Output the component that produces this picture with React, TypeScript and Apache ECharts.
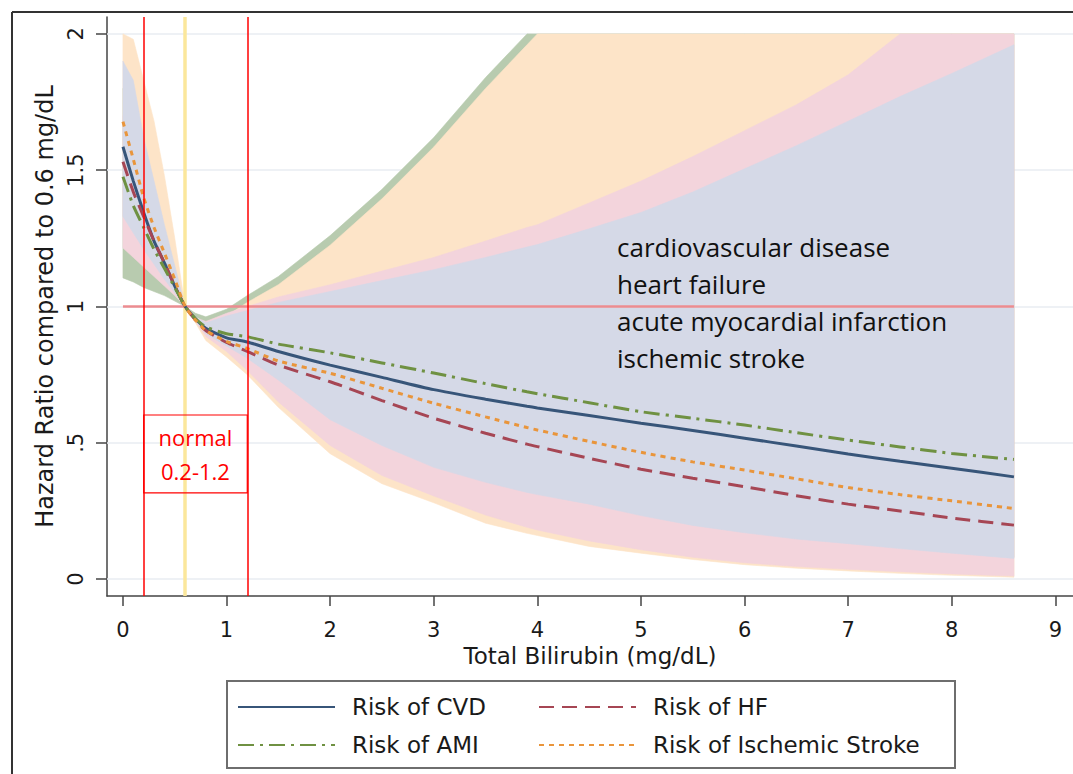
import React, { useEffect, useRef } from "react";
import * as echarts from "echarts";

// ---------- data ----------
const bilirubin = [0, 0.1, 0.2, 0.3, 0.4, 0.5, 0.6, 0.7, 0.8, 1.0, 1.2, 1.5, 2, 2.5, 3, 3.5, 3.9, 4, 4.5, 5, 5.5, 6, 6.5, 7, 7.5, 8, 8.6];

const riskCVD = [1.586, 1.46, 1.345, 1.24, 1.16, 1.075, 1.0, 0.955, 0.92, 0.885, 0.87, 0.835, 0.785, 0.74, 0.695, 0.66, 0.634, 0.628, 0.6, 0.572, 0.545, 0.517, 0.488, 0.459, 0.432, 0.407, 0.375];
const riskHF = [1.531, 1.42, 1.33, 1.24, 1.16, 1.075, 1.0, 0.95, 0.912, 0.868, 0.835, 0.785, 0.724, 0.655, 0.59, 0.535, 0.495, 0.486, 0.443, 0.403, 0.37, 0.339, 0.306, 0.275, 0.25, 0.224, 0.198];
const riskAMI = [1.476, 1.37, 1.29, 1.21, 1.14, 1.07, 1.0, 0.955, 0.925, 0.9, 0.889, 0.862, 0.83, 0.793, 0.756, 0.717, 0.687, 0.68, 0.647, 0.614, 0.59, 0.565, 0.537, 0.51, 0.485, 0.461, 0.439];
const riskIS = [1.678, 1.54, 1.4, 1.29, 1.196, 1.1, 1.0, 0.95, 0.912, 0.872, 0.846, 0.8, 0.755, 0.7, 0.645, 0.595, 0.556, 0.547, 0.505, 0.465, 0.43, 0.4, 0.368, 0.336, 0.31, 0.287, 0.259];

// confidence bands (clipped at 2 as drawn)
const cvdLo = [1.33, 1.27, 1.21, 1.155, 1.1, 1.05, 1.0, 0.95, 0.9, 0.855, 0.81, 0.73, 0.585, 0.49, 0.41, 0.355, 0.318, 0.31, 0.275, 0.233, 0.197, 0.17, 0.147, 0.13, 0.112, 0.095, 0.076];
const cvdHi = [1.9, 1.83, 1.62, 1.46, 1.3, 1.15, 1.0, 0.96, 0.94, 0.965, 0.985, 1.015, 1.055, 1.095, 1.135, 1.18, 1.218, 1.227, 1.285, 1.345, 1.42, 1.505, 1.59, 1.68, 1.77, 1.855, 1.96];
const hfLo = [1.215, 1.18, 1.145, 1.11, 1.075, 1.04, 1.0, 0.945, 0.89, 0.835, 0.765, 0.65, 0.49, 0.38, 0.305, 0.235, 0.19, 0.18, 0.14, 0.108, 0.08, 0.06, 0.046, 0.036, 0.027, 0.019, 0.011];
const hfHi = [1.7, 1.6, 1.45, 1.32, 1.2, 1.09, 1.0, 0.96, 0.945, 0.975, 1.0, 1.035, 1.08, 1.13, 1.18, 1.24, 1.29, 1.3, 1.38, 1.46, 1.55, 1.645, 1.74, 1.85, 2.0, 2.0, 2.0];
const amiLo = [1.105, 1.09, 1.07, 1.055, 1.04, 1.02, 1.0, 0.95, 0.9, 0.86, 0.82, 0.74, 0.6, 0.5, 0.42, 0.365, 0.33, 0.32, 0.285, 0.245, 0.21, 0.18, 0.155, 0.135, 0.118, 0.1, 0.08];
const amiHi = [1.8, 1.65, 1.5, 1.38, 1.25, 1.12, 1.0, 0.975, 0.962, 0.99, 1.04, 1.11, 1.26, 1.43, 1.62, 1.84, 2.0, 2.0, 2.0, 2.0, 2.0, 2.0, 2.0, 2.0, 2.0, 2.0, 2.0];
const isLo = [1.4, 1.32, 1.24, 1.17, 1.11, 1.05, 1.0, 0.94, 0.875, 0.815, 0.75, 0.63, 0.46, 0.35, 0.28, 0.205, 0.168, 0.16, 0.12, 0.095, 0.072, 0.053, 0.04, 0.03, 0.021, 0.014, 0.007];
const isHi = [2.0, 1.98, 1.83, 1.68, 1.48, 1.25, 1.0, 0.96, 0.94, 0.965, 1.015, 1.08, 1.225, 1.395, 1.585, 1.8, 1.96, 2.0, 2.0, 2.0, 2.0, 2.0, 2.0, 2.0, 2.0, 2.0, 2.0];

const xTicks = [0, 1, 2, 3, 4, 5, 6, 7, 8, 9];
const yTicks = [0, 0.5, 1, 1.5, 2];

const refLineX = [0, 8.6];
const refLineY = [1, 1];
const normalRange = [0.2, 1.2];
const referenceBilirubin = 0.6;
const normalBoxHR = [0.602, 0.316];

const legendCol1 = ["Risk of CVD", "Risk of AMI"];
const legendCol2 = ["Risk of HF", "Risk of Ischemic Stroke"];
const annotationLines = ["cardiovascular disease", "heart failure", "acute myocardial infarction", "ischemic stroke"];

// ---------- styling ----------
const STATA_FONT = "DejaVu Sans";
const NOTE_FONT = "Open Sans";
const TEXT = "#1a1a1a";
const AXIS = "#444";

const pairs = (ys: number[]) => bilirubin.map((x, i) => [x, ys[i]]);

// a confidence band drawn as one polygon through the axis scales
function band(id: string, lo: number[], hi: number[], color: string) {
  const rows = bilirubin.map((x, i) => [x, lo[i], hi[i]]);
  return {
    type: "custom",
    name: id,
    data: rows,
    encode: { x: 0, y: [1, 2] },
    clip: true,
    silent: true,
    z: 2,
    renderItem: (params: any, api: any) => {
      if (params.dataIndex !== 0) return null;
      const upper = rows.map((r) => api.coord([r[0], r[2]]));
      const lower = rows.map((r) => api.coord([r[0], r[1]])).reverse();
      return {
        type: "polygon",
        shape: { points: upper.concat(lower) },
        style: { fill: color, stroke: color, lineWidth: 0.6 },
        silent: true,
      };
    },
  };
}

function curve(name: string, ys: number[], color: string, type: any) {
  return {
    type: "line",
    name,
    data: pairs(ys),
    symbol: "none",
    smooth: 0.2,
    lineStyle: { color, width: 3, type },
    itemStyle: { color },
    silent: true,
    z: 4,
  };
}

const legendBase = {
  orient: "vertical",
  top: 694,
  itemWidth: 97,
  itemHeight: 14,
  itemGap: 12,
  padding: 0,
  selectedMode: false,
  itemStyle: { opacity: 0 },
  textStyle: {
    fontFamily: STATA_FONT,
    fontSize: 23,
    color: TEXT,
    lineHeight: 26,
    padding: [0, 0, 0, 12],
  },
};

const option: any = {
  animation: false,
  backgroundColor: "#ffffff",
  grid: { left: 107, right: 0, top: 17, bottom: 178, containLabel: false },
  xAxis: {
    type: "value",
    min: -0.154,
    max: 9.17,
    name: "Total Bilirubin (mg/dL)",
    nameLocation: "middle",
    nameGap: 45,
    nameTextStyle: { fontFamily: STATA_FONT, fontSize: 23, color: TEXT },
    axisLine: { show: true, onZero: false, lineStyle: { color: AXIS, width: 1.5 } },
    axisTick: { show: true, length: 10, customValues: xTicks, lineStyle: { color: AXIS, width: 1.5 } },
    axisLabel: { customValues: xTicks, margin: 23, fontFamily: STATA_FONT, fontSize: 21, color: TEXT },
    splitLine: { show: false },
  },
  yAxis: {
    type: "value",
    min: -0.062,
    max: 2.062,
    name: "Hazard Ratio compared to 0.6 mg/dL",
    nameLocation: "middle",
    nameGap: 48,
    nameRotate: 90,
    nameTextStyle: { fontFamily: STATA_FONT, fontSize: 24, color: TEXT },
    axisLine: { show: true, onZero: false, lineStyle: { color: AXIS, width: 1.5 } },
    axisTick: { show: true, length: 11, customValues: yTicks, lineStyle: { color: AXIS, width: 1.5 } },
    axisLabel: {
      customValues: yTicks,
      rotate: 90,
      margin: 21,
      fontFamily: STATA_FONT,
      fontSize: 21,
      color: TEXT,
      formatter: (v: number) => (v === 0.5 ? ".5" : String(v)),
    },
    splitLine: { show: false },
  },
  legend: [
    { ...legendBase, left: 237, data: legendCol1 },
    { ...legendBase, left: 538, data: legendCol2 },
  ],
  graphic: [
    { type: "line", shape: { x1: 12, y1: 12, x2: 1073, y2: 12 }, style: { stroke: "#333", lineWidth: 2 }, silent: true },
    { type: "line", shape: { x1: 12, y1: 12, x2: 12, y2: 774 }, style: { stroke: "#333", lineWidth: 2 }, silent: true },
    {
      type: "rect",
      shape: { x: 227, y: 681, width: 728, height: 87 },
      style: { fill: "transparent", stroke: "#6e6e6e", lineWidth: 2 },
      silent: true,
    },
    {
      type: "text",
      x: 617,
      y: 228,
      silent: true,
      z: 10,
      style: {
        text: annotationLines.join("\n"),
        fontFamily: NOTE_FONT,
        fontSize: 26,
        lineHeight: 37,
        fill: "#111",
        verticalAlign: "top",
        align: "left",
      },
    },
  ],
  series: [
    {
      type: "line",
      name: "grid",
      data: [],
      symbol: "none",
      silent: true,
      z: 1,
      markLine: {
        silent: true,
        z: 1,
        symbol: ["none", "none"],
        label: { show: false },
        lineStyle: { color: "#e8ecf2", width: 1.5, type: "solid" },
        data: yTicks.map((v) => ({ yAxis: v })),
      },
    },
    band("ami", amiLo, amiHi, "#b8cbaf"),
    band("is", isLo, isHi, "#fde4c8"),
    band("hf", hfLo, hfHi, "#f3d4dc"),
    band("cvd", cvdLo, cvdHi, "#d5d9e7"),
    {
      type: "line",
      name: "reference",
      data: refLineX.map((x, i) => [x, refLineY[i]]),
      symbol: "none",
      lineStyle: { color: "#ec8c90", width: 2.5 },
      silent: true,
      z: 3,
      markLine: {
        silent: true,
        z: 3,
        symbol: ["none", "none"],
        label: { show: false },
        lineStyle: { color: "#fbe79c", width: 3.5, type: "solid" },
        data: [{ xAxis: referenceBilirubin }],
      },
    },
    curve("Risk of CVD", riskCVD, "#375579", "solid"),
    curve("Risk of HF", riskHF, "#a64654", [15, 8]),
    curve("Risk of AMI", riskAMI, "#6f9142", [16, 6, 3, 6]),
    curve("Risk of Ischemic Stroke", riskIS, "#e9953b", [5, 5]),
    {
      type: "line",
      name: "normal-range",
      data: [],
      symbol: "none",
      silent: true,
      z: 6,
      markLine: {
        silent: true,
        z: 6,
        symbol: ["none", "none"],
        label: { show: false },
        lineStyle: { color: "#ff0000", width: 1.5, type: "solid", opacity: 1 },
        data: normalRange.map((v) => ({ xAxis: v })),
      },
      markArea: {
        silent: true,
        z: 6,
        itemStyle: { color: "rgba(255,255,255,0)", borderColor: "#ff0000", borderWidth: 1.2 },
        label: {
          show: true,
          position: "inside",
          formatter: "normal\n0.2-1.2",
          color: "#ff0000",
          fontFamily: NOTE_FONT,
          fontSize: 22,
          lineHeight: 34,
        },
        data: [[{ xAxis: normalRange[0], yAxis: normalBoxHR[0] }, { xAxis: normalRange[1], yAxis: normalBoxHR[1] }]],
      },
    },
  ],
};

export default function App() {
  const ref = useRef<HTMLDivElement>(null);
  useEffect(() => {
    const chart = echarts.init(ref.current as HTMLDivElement, null, { renderer: "svg" });
    chart.setOption(option);
    return () => chart.dispose();
  }, []);
  return (
    <div
      ref={ref}
      style={{ position: "absolute", left: 0, top: 0, width: 1073, height: 774, background: "#ffffff" }}
    />
  );
}
